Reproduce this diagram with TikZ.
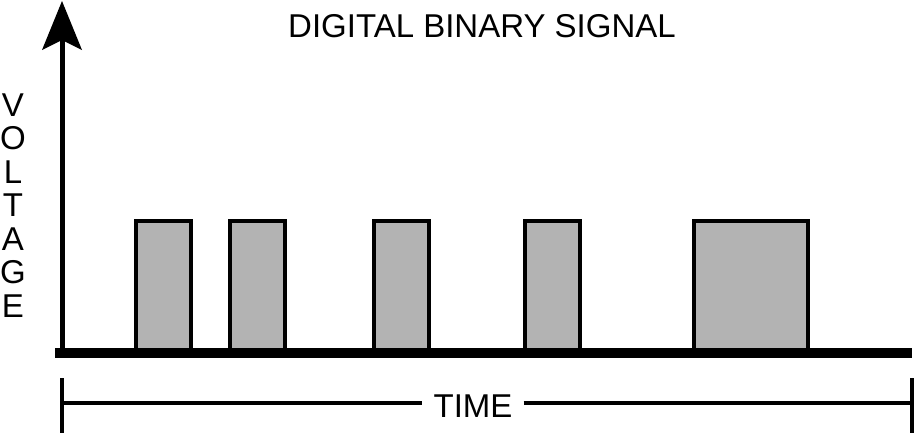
\documentclass[tikz,border=0pt]{standalone}
\usepackage{fontspec}
\setmainfont{Liberation Sans}
\begin{document}
\begin{tikzpicture}[x=1pt,y=-1pt,
  lbl/.style={font=\fontsize{33}{33}\selectfont, inner sep=0pt, anchor=base},
  pulse/.style={draw=black, fill=pulsegray, line width=4pt, line join=miter},
  axis/.style={draw=black, line width=5pt},
  baseaxis/.style={draw=black, line width=10pt},
  timebar/.style={draw=black, line width=4pt}]
\definecolor{pulsegray}{RGB}{179,179,179}
\useasboundingbox (0,0) rectangle (916,434);
% title
\node[lbl] (title) at (482,37.5) {DIGITAL BINARY SIGNAL};
% vertical label
\foreach \ch [count=\i from 0] in {V,O,L,T,A,G,E}
  \node[lbl] (v\i) at (13,{116+33.5*\i}) {\ch};
% pulses
\foreach \a/\b [count=\k] in {136/191, 230/285, 373.5/429, 525/580, 694/808}
  \path[pulse] (\a,353) rectangle (\b,221);
% vertical axis with arrow
\coordinate (ytop) at (62,1);
\coordinate (yl) at (42,50);
\coordinate (yn) at (62,40);
\coordinate (yr) at (82,50);
\coordinate (ybot) at (62,353);
\path[axis] (yn) -- (ybot);
\fill[black] (ytop) -- (yr) -- (yn) -- (yl) -- cycle;
% horizontal axis
\coordinate (xl) at (55,353);
\coordinate (xr) at (912,353);
\path[baseaxis] (xl) -- (xr);
% time bar
\node[lbl, anchor=base, inner xsep=11pt] (time) at (473,417) {TIME};
\coordinate (tl) at (62,403);
\coordinate (tr) at (912,403);
\coordinate (tlt) at (62,378);
\coordinate (tlb) at (62,433);
\coordinate (trt) at (912,378);
\coordinate (trb) at (912,433);
\path[timebar] (tlt) -- (tlb);
\path[timebar] (trt) -- (trb);
\path[timebar] (tl) -- (tl -| time.west);
\path[timebar] (tr -| time.east) -- (tr);
\end{tikzpicture}
\end{document}
